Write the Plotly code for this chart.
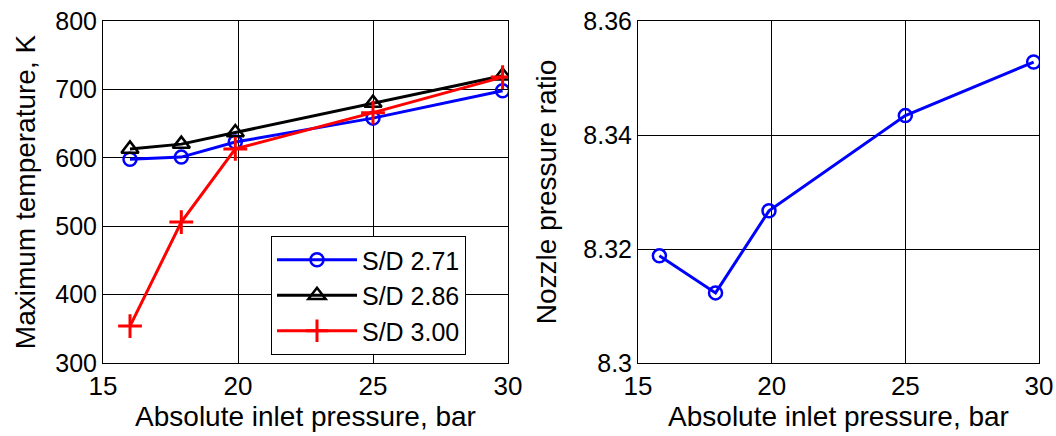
import plotly.graph_objects as go

# Data
pressure = [16.0, 17.9, 19.9, 25.0, 29.8]
temp_sd271 = [598, 601, 623, 658, 698]
temp_sd286 = [613, 620, 637, 680, 720]
temp_sd300 = [354, 506, 613, 666, 718]

pressure_r = [15.8, 17.9, 19.9, 25.0, 29.8]
npr = [8.3188, 8.3123, 8.3267, 8.3434, 8.3528]

x_ticks = [15, 20, 25, 30]
y_ticks_left = [300, 400, 500, 600, 700, 800]
y_ticks_right = [8.30, 8.32, 8.34, 8.36]
y_ticktext_right = ["8.3", "8.32", "8.34", "8.36"]

FONT = "Liberation Sans, Arial, sans-serif"
W, H = 1056, 436


def tfont(size):
    return dict(family=FONT, size=size, color="black")


fig = go.Figure()
fig.add_trace(go.Scatter(x=pressure, y=temp_sd271, name="S/D 2.71", mode="lines+markers",
                         line=dict(color="#0000ff", width=3),
                         marker=dict(symbol="circle-open", size=13, color="#0000ff", line=dict(width=2.5)),
                         xaxis="x", yaxis="y"))
fig.add_trace(go.Scatter(x=pressure, y=temp_sd286, name="S/D 2.86", mode="lines+markers",
                         line=dict(color="#000000", width=3),
                         marker=dict(symbol="triangle-up-open", size=15, color="#000000", line=dict(width=2.5)),
                         xaxis="x", yaxis="y"))
fig.add_trace(go.Scatter(x=pressure, y=temp_sd300, name="S/D 3.00", mode="lines+markers",
                         line=dict(color="#ff0000", width=3),
                         marker=dict(symbol="cross-thin-open", size=17, color="#ff0000", line=dict(width=3, color="#ff0000")),
                         xaxis="x", yaxis="y"))
fig.add_trace(go.Scatter(x=pressure_r, y=npr, name="NPR", mode="lines+markers", showlegend=False,
                         line=dict(color="#0000ff", width=3),
                         marker=dict(symbol="circle-open", size=13, color="#0000ff", line=dict(width=2.5)),
                         xaxis="x2", yaxis="y2"))

base = dict(showline=True, mirror=True, linecolor="black", linewidth=1,
            showgrid=True, gridcolor="black", gridwidth=1, zeroline=False,
            ticks="", automargin=False)

fig.update_layout(
    width=W, height=H,
    margin=dict(l=0, r=0, t=0, b=0),
    paper_bgcolor="white", plot_bgcolor="white",
    font=dict(family=FONT, size=20, color="black"),
    xaxis=dict(domain=[103 / W, 508 / W], range=[15, 30], tickvals=x_ticks, tickfont=tfont(26),
               title=dict(text="Absolute inlet pressure, bar", font=tfont(28), standoff=6),
               anchor="y", **base),
    yaxis=dict(domain=[(H - 363) / H, (H - 21) / H], range=[300, 800], tickvals=y_ticks_left,
               tickfont=tfont(25),
               title=dict(text="Maximum temperature, K", font=tfont(28), standoff=11),
               anchor="x", **base),
    xaxis2=dict(domain=[638 / W, 1039 / W], range=[15, 30], tickvals=x_ticks, tickfont=tfont(26),
                title=dict(text="Absolute inlet pressure, bar", font=tfont(28), standoff=6),
                anchor="y2", **base),
    yaxis2=dict(domain=[(H - 363) / H, (H - 21) / H], range=[8.30, 8.36], tickvals=y_ticks_right,
                ticktext=y_ticktext_right, tickfont=tfont(25),
                title=dict(text="Nozzle pressure ratio", font=tfont(28), standoff=18),
                anchor="x2", **base),
    legend=dict(x=271 / W, y=1 - 236 / H, xanchor="left", yanchor="top",
                bgcolor="white", bordercolor="black", borderwidth=1,
                font=tfont(25), itemwidth=80, tracegroupgap=0),
    showlegend=True,
)

fig.write_html("out.html")
